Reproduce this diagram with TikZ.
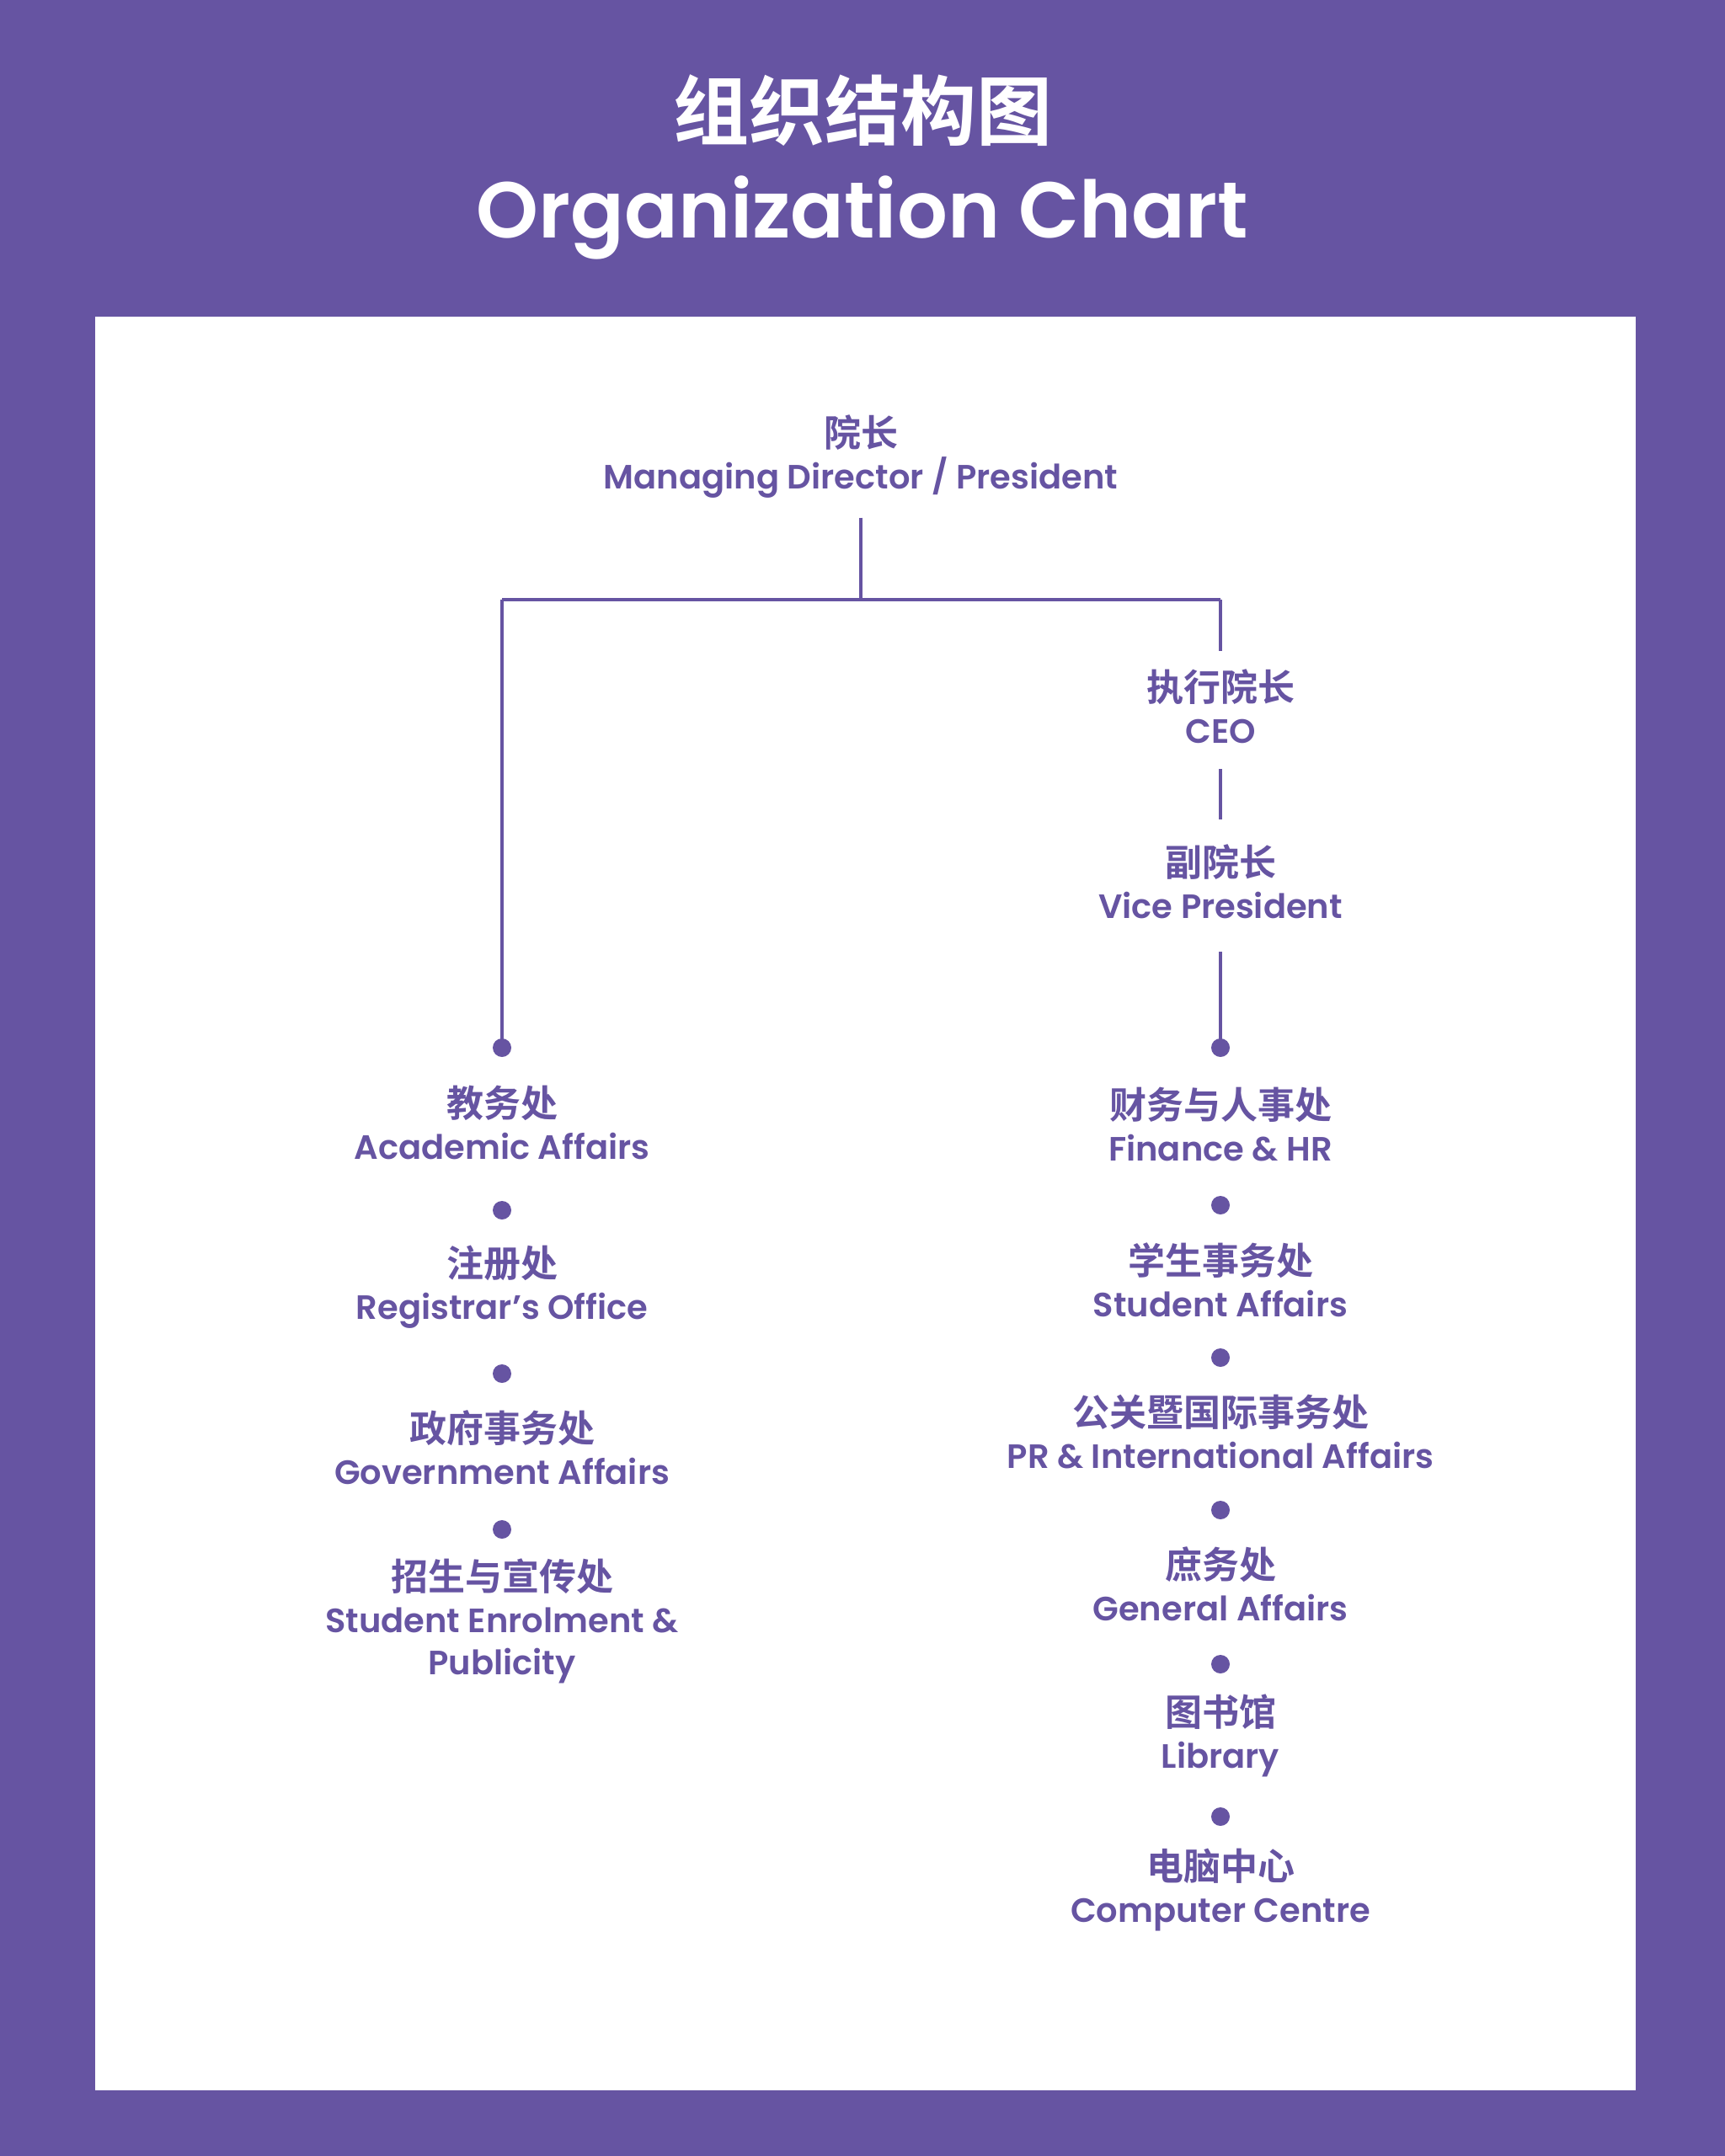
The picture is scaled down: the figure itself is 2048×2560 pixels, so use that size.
\documentclass[tikz,border=0pt]{standalone}
\usepackage{fontspec}
\setmainfont{Poppins}[UprightFont=* SemiBold, BoldFont=* Bold]
\newfontfamily\cjk{Noto Sans CJK SC}[UprightFont=* Bold]
\definecolor{pur}{RGB}{102,84,162}
\begin{document}
\begin{tikzpicture}[x=1pt,y=-1pt,
  unit/.style={align=center, text=pur, inner sep=0pt,
    font=\fontsize{40}{50}\selectfont},
  dot/.style={circle, fill=pur, inner sep=0pt, minimum size=22pt},
  conn/.style={draw=pur, line width=3.5pt}]
\fill[pur] (0,0) rectangle (2048,2560);
\fill[white] (113,376) rectangle (1942,2482);
\useasboundingbox (0,0) rectangle (2048,2560);
\newcommand\zh[1]{{\cjk\fontsize{44}{50}\selectfont #1}}
% title
\node[text=white, anchor=base, font=\cjk\fontsize{90}{96}\selectfont] (tcn) at (1024,165) {组织结构图};
\node[text=white, anchor=base, font=\fontsize{94}{110}\selectfont] (ten) at (1024,282) {Organization Chart};
% units
\node[unit] (top) at (1022,542) {\zh{院长}\\Managing Director / President};
\node[unit] (ceo) at (1449,839) {\zh{执行院长}\\CEO};
\node[unit] (vp) at (1449,1047) {\zh{副院长}\\Vice President};
\node[unit] (l1) at (596,1333) {\zh{教务处}\\Academic Affairs};
\node[unit] (l2) at (596,1528) {\zh{注册处}\\Registrar’s Office};
\node[unit] (l3) at (596,1719) {\zh{政府事务处}\\Government Affairs};
\node[unit] (l4) at (596,1925) {\zh{招生与宣传处}\\Student Enrolment \&\\Publicity};
\node[unit] (r1) at (1449,1335) {\zh{财务与人事处}\\Finance \& HR};
\node[unit] (r2) at (1449,1520) {\zh{学生事务处}\\Student Affairs};
\node[unit] (r3) at (1449,1700) {\zh{公关暨国际事务处}\\PR \& International Affairs};
\node[unit] (r4) at (1449,1881) {\zh{庶务处}\\General Affairs};
\node[unit] (r5) at (1449,2061) {\zh{图书馆}\\Library};
\node[unit] (r6) at (1449,2244) {\zh{电脑中心}\\Computer Centre};
% dots
\node[dot] (dl1) at (596,1244) {};
\node[dot] (dl2) at (596,1437) {};
\node[dot] (dl3) at (596,1631) {};
\node[dot] (dl4) at (596,1816) {};
\node[dot] (dr1) at (1449,1244) {};
\node[dot] (dr2) at (1449,1431) {};
\node[dot] (dr3) at (1449,1612) {};
\node[dot] (dr4) at (1449,1793) {};
\node[dot] (dr5) at (1449,1976) {};
\node[dot] (dr6) at (1449,2157) {};
% connectors
\coordinate (j0) at (1022,712);
\coordinate (jl) at (596,712);
\coordinate (jr) at (1449,712);
\draw[conn] ([yshift=-23pt]top.south) -- (j0);
\draw[conn] (jl) -- (jr);
\draw[conn] (jl) -- (dl1.center);
\draw[conn] (jr) -- ([yshift=22pt]ceo.north);
\draw[conn] ([yshift=-30pt]ceo.south) -- ([yshift=30pt]vp.north);
\draw[conn] ([yshift=-39pt]vp.south) -- (dr1.center);
\end{tikzpicture}
\end{document}
